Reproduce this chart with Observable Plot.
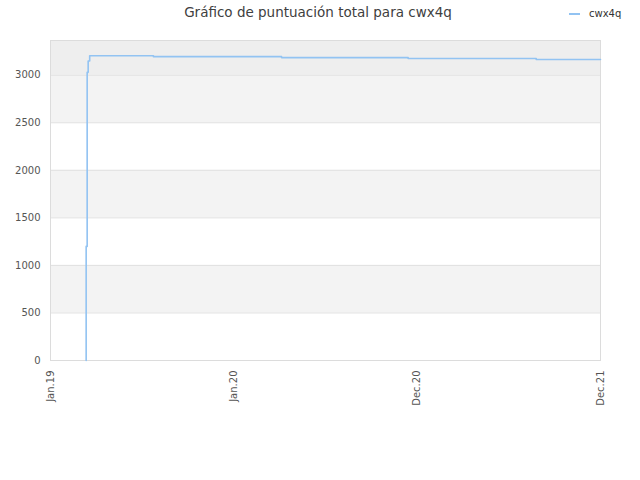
<!DOCTYPE html>
<html>
<head>
<meta charset="utf-8">
<script src="https://cdn.jsdelivr.net/npm/d3@7"></script>
<script src="https://cdn.jsdelivr.net/npm/@observablehq/plot@0.6"></script>
<style>
  html, body { margin: 0; padding: 0; background: #fff; }
  #wrap { position: relative; width: 640px; height: 480px; font-family: "DejaVu Sans", sans-serif; }
  #title { position: absolute; top: 4px; left: 0; width: 636px; text-align: center; font-size: 13.5px; color: #404040; }
  #legend { position: absolute; top: 8px; left: 569px; font-size: 10px; color: #333; display: flex; align-items: center; }
  #legend .sw { width: 11px; height: 0; border-top: 2px solid #92c3f2; margin-right: 9px; }
  #chart { position: absolute; top: 0; left: 0; }
</style>
</head>
<body>
<div id="wrap">
  <div id="chart"></div>
  <div id="title">Gráfico de puntuación total para cwx4q</div>
  <div id="legend"><span class="sw"></span><span>cwx4q</span></div>
</div>
<script>
// Data
const dates = ["2019-03-13", "2019-03-13", "2019-03-15", "2019-03-17", "2019-03-20",
               "2019-07-25", "2020-04-05", "2020-12-13", "2021-08-25", "2021-12-31"];
const scores = [0, 1200, 3030, 3150, 3205, 3195, 3185, 3175, 3165, 3165];

const tickDates = ["2019-01-01", "2020-01-01", "2020-12-31", "2021-12-31"];
const tickLabels = ["Jan.19", "Jan.20", "Dec.20", "Dec.21"];

const yTicks = [0, 500, 1000, 1500, 2000, 2500, 3000];
const bandLow = [500, 1500, 2500];
const bandHigh = [1000, 2000, 3000];
const yMax = 3365;

const series = dates.map((d, i) => ({date: new Date(d), score: scores[i]}));
const bands = bandLow.map((v, i) => ({y1: v, y2: bandHigh[i]}));
const ticks = tickDates.map(d => new Date(d));
const fmt = new Map(ticks.map((t, i) => [+t, tickLabels[i]]));

const chart = Plot.plot({
  width: 640,
  height: 480,
  marginLeft: 50,
  marginRight: 40,
  marginTop: 40,
  marginBottom: 120,
  style: {fontFamily: "DejaVu Sans, sans-serif", fontSize: "10px", color: "#555", background: "transparent"},
  x: {type: "utc", domain: [ticks[0], ticks[ticks.length - 1]], ticks: ticks,
      tickFormat: d => fmt.get(+d), tickRotate: -90, tickSize: 0, tickPadding: 10, label: null},
  y: {domain: [0, yMax], ticks: yTicks, tickFormat: d => String(d), tickSize: 0, tickPadding: 10, label: null},
  marks: [
    Plot.rect(bands, {y1: "y1", y2: "y2", fill: "#f3f3f3"}),
    Plot.rect([{y1: 3000, y2: yMax}], {y1: "y1", y2: "y2", fill: "#eeeeee"}),
    Plot.ruleY(yTicks.slice(1), {stroke: "#e0e0e0"}),
    Plot.frame({stroke: "#dcdcdc"}),
    Plot.line(series, {x: "date", y: "score", curve: "step-after", stroke: "#92c3f2", strokeWidth: 1.6})
  ]
});
document.getElementById("chart").appendChild(chart);
</script>
</body>
</html>
